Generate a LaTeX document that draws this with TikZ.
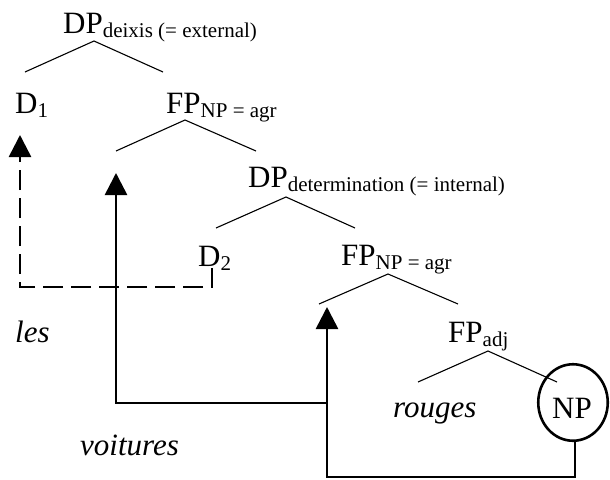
\documentclass[tikz,border=0pt]{standalone}
\usepackage{fontspec}
\setmainfont{Liberation Serif}
\usetikzlibrary{arrows.meta,shapes.geometric}
\newcommand\mylab[2]{#1\raisebox{-4pt}{\fontsize{21}{21}\selectfont #2}}
\begin{document}
\begin{tikzpicture}[x=1pt,y=-1pt,
  lab/.style={anchor=base west, inner sep=0pt, font=\fontsize{31}{31}\selectfont},
  word/.style={lab, font=\fontsize{31}{31}\selectfont\itshape},
  branch/.style={line width=1.1pt},
  mv/.style={line width=2.6pt, -{Triangle[width=22pt,length=22pt]}},
  dmv/.style={mv, dash pattern=on 20pt off 8pt}]
\useasboundingbox (0,0) rectangle (610,479);
% labels
\node[lab] (dp1) at (63,33) {\mylab{DP}{deixis (= external)}};
\node[lab] (d1) at (15,113) {\mylab{D}{1}};
\node[lab] (fp1) at (166,113) {\mylab{FP}{NP = agr}};
\node[lab] (dp2) at (248,187) {\mylab{DP}{determination (= internal)}};
\node[lab] (d2) at (198,266) {\mylab{D}{2}};
\node[lab] (fp2) at (341,265) {\mylab{FP}{NP = agr}};
\node[lab] (fp3) at (448,342) {\mylab{FP}{adj}};
\node[word] (les) at (15,342) {les};
\node[word] (voit) at (80,455) {voitures};
\node[word] (roug) at (393,417) {rouges};
\node[draw, ellipse, line width=2.6pt, minimum width=69.5pt, minimum height=76.5pt, inner sep=0pt] (np) at (573,402.5) {};
\node[lab] (nplab) at (552,418) {NP};
% branches
\coordinate (a1) at (94,41);  \coordinate (a1l) at (25,72);  \coordinate (a1r) at (163,72);
\coordinate (a2) at (185,120); \coordinate (a2l) at (116,151); \coordinate (a2r) at (256,151);
\coordinate (a3) at (286,197); \coordinate (a3l) at (216,228); \coordinate (a3r) at (355,228);
\coordinate (a4) at (388,274); \coordinate (a4l) at (319,304); \coordinate (a4r) at (458,304);
\coordinate (a5) at (488,351); \coordinate (a5l) at (418,382); \coordinate (a5r) at (557,382);
\draw[branch] (a1l) -- (a1) -- (a1r);
\draw[branch] (a2l) -- (a2) -- (a2r);
\draw[branch] (a3l) -- (a3) -- (a3r);
\draw[branch] (a4l) -- (a4) -- (a4r);
\draw[branch] (a5l) -- (a5) -- (a5r);
% movement arrows
\coordinate (d2b) at (212,268);
\coordinate (d2c) at (212,287);
\coordinate (t0) at (20,135);
\draw[dmv] (d2b) -- (d2c) -| (t0);
\coordinate (j1) at (327,403);
\coordinate (c1) at (116,403);
\coordinate (t1) at (116,173);
\draw[mv] (j1) -- (c1) -- (t1);
\coordinate (c3) at (575,477);
\coordinate (t2) at (327,307);
\draw[mv] (np.south -| c3) -- (c3) -| (t2);
\end{tikzpicture}
\end{document}
